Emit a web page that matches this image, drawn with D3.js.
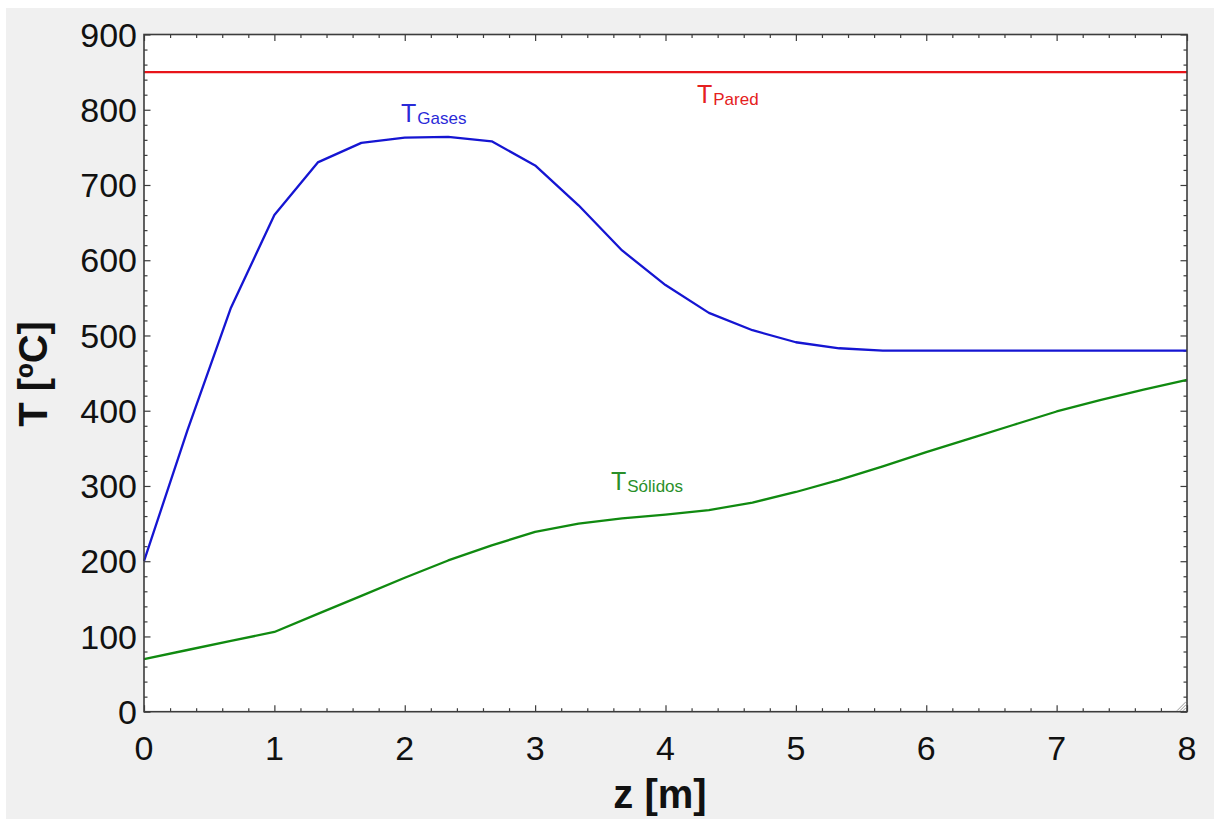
<!DOCTYPE html>
<html>
<head>
<meta charset="utf-8">
<script src="https://cdnjs.cloudflare.com/ajax/libs/d3/7.8.5/d3.min.js"></script>
<style>
  html, body { margin: 0; padding: 0; background: #ffffff; }
  svg { display: block; }
</style>
</head>
<body>
<script>
// Axial position along the reactor [m]
const zValues = [0, 0.333, 0.667, 1, 1.333, 1.667, 2, 2.333, 2.667, 3, 3.333, 3.667,
                 4, 4.333, 4.667, 5, 5.333, 5.667, 6, 6.333, 6.667, 7, 7.333, 7.667, 8];
// Gas temperature [ºC]
const tGases = [200, 374, 537, 660, 730, 756, 763, 764, 758, 726, 673, 613,
                567, 530, 507, 491, 483, 480, 480, 480, 480, 480, 480, 480, 480];
// Solids temperature [ºC]
const tSolidos = [70, 82, 94, 106, 130, 154, 178, 201, 221, 239, 250, 257,
                  262, 268, 278, 292, 308, 326, 345, 363, 381, 399, 414, 428, 441];
// Wall temperature [ºC]
const zPared = [0, 8];
const tPared = [850, 850];

const xTickLabels = [0, 1, 2, 3, 4, 5, 6, 7, 8];
const yTickLabels = [0, 100, 200, 300, 400, 500, 600, 700, 800, 900];

const W = 1214, H = 819;
const plotLeft = 144, plotRight = 1187, plotTop = 34.5, plotBottom = 711.7;

const svg = d3.select("body").append("svg")
  .attr("width", W).attr("height", H);

// window background
svg.append("rect").attr("x", 0).attr("y", 0).attr("width", W).attr("height", H).attr("fill", "#ffffff");
svg.append("rect").attr("x", 6).attr("y", 8).attr("width", W - 6).attr("height", H - 8).attr("fill", "#f0f0f0");

const x = d3.scaleLinear().domain([0, 8]).range([plotLeft, plotRight]);
const y = d3.scaleLinear().domain([0, 900]).range([plotBottom, plotTop]);

// plot area
svg.append("rect")
  .attr("x", plotLeft).attr("y", plotTop)
  .attr("width", plotRight - plotLeft).attr("height", plotBottom - plotTop)
  .attr("fill", "#ffffff");

const font = "'Liberation Sans', Arial, sans-serif";
const axisColor = "#3c3c3c";

// inward ticks on all four sides
const xMinor = d3.range(0, 8.0001, 0.2).map(v => +v.toFixed(1)).filter(v => Math.abs(v - Math.round(v)) > 1e-6);
const yMinor = d3.range(0, 900.1, 20).filter(v => v % 100 !== 0);

function tickAxis(axisFn, scale, values, size, transform) {
  const g = svg.append("g").attr("transform", transform)
    .call(axisFn(scale).tickValues(values).tickSize(size).tickFormat(""));
  g.select(".domain").remove();
  g.selectAll(".tick line").attr("stroke", axisColor).attr("stroke-width", 1.2);
  return g;
}
tickAxis(d3.axisBottom, x, xTickLabels, -6.5, `translate(0,${plotBottom})`);
tickAxis(d3.axisBottom, x, xMinor, -3.5, `translate(0,${plotBottom})`);
tickAxis(d3.axisTop, x, xTickLabels, -6.5, `translate(0,${plotTop})`);
tickAxis(d3.axisTop, x, xMinor, -3.5, `translate(0,${plotTop})`);
tickAxis(d3.axisLeft, y, yTickLabels, -6.5, `translate(${plotLeft},0)`);
tickAxis(d3.axisLeft, y, yMinor, -3.5, `translate(${plotLeft},0)`);
tickAxis(d3.axisRight, y, yTickLabels, -6.5, `translate(${plotRight},0)`);
tickAxis(d3.axisRight, y, yMinor, -3.5, `translate(${plotRight},0)`);

// tick labels
svg.append("g").selectAll("text").data(xTickLabels).join("text")
  .attr("x", d => x(d)).attr("y", 760)
  .attr("text-anchor", "middle")
  .attr("font-family", font).attr("font-size", 34).attr("fill", "#111")
  .text(d => d);

svg.append("g").selectAll("text").data(yTickLabels).join("text")
  .attr("x", 137).attr("y", d => y(d))
  .attr("dy", "0.36em")
  .attr("text-anchor", "end")
  .attr("font-family", font).attr("font-size", 34).attr("fill", "#111")
  .text(d => d);

// axis titles
svg.append("text")
  .attr("x", 660).attr("y", 808)
  .attr("text-anchor", "middle")
  .attr("font-family", font).attr("font-size", 40).attr("font-weight", "bold").attr("fill", "#111")
  .text("z [m]");

svg.append("text")
  .attr("transform", "translate(47,374) rotate(-90)")
  .attr("text-anchor", "middle")
  .attr("font-family", font).attr("font-size", 40).attr("font-weight", "bold").attr("fill", "#111")
  .text("T [ºC]");

// curves
const plot = svg.append("g");
const line = d3.line().x(d => x(d[0])).y(d => y(d[1]));

plot.append("path")
  .datum(d3.zip(zPared, tPared))
  .attr("d", line).attr("fill", "none")
  .attr("stroke", "#e8141a").attr("stroke-width", 2.2);

plot.append("path")
  .datum(d3.zip(zValues, tGases))
  .attr("d", line).attr("fill", "none")
  .attr("stroke", "#1515d2").attr("stroke-width", 2.3).attr("stroke-linejoin", "round");

plot.append("path")
  .datum(d3.zip(zValues, tSolidos))
  .attr("d", line).attr("fill", "none")
  .attr("stroke", "#108a10").attr("stroke-width", 2.3).attr("stroke-linejoin", "round");

// curve labels with subscripts
function curveLabel(xPos, yPos, sub, color) {
  const t = svg.append("text")
    .attr("x", xPos).attr("y", yPos)
    .attr("font-family", font).attr("fill", color);
  t.append("tspan").attr("font-size", 25).text("T");
  t.append("tspan").attr("font-size", 17).attr("dx", 1).attr("dy", 2).text(sub);
}
curveLabel(401, 122, "Gases", "#2a2ad8");
curveLabel(697, 103, "Pared", "#e52020");
curveLabel(611, 490, "Sólidos", "#2a8f2a");

// frame
svg.append("rect")
  .attr("x", plotLeft).attr("y", plotTop)
  .attr("width", plotRight - plotLeft).attr("height", plotBottom - plotTop)
  .attr("fill", "none").attr("stroke", axisColor).attr("stroke-width", 1.6);

// resize grip in the corner
const grip = svg.append("g").attr("stroke", "#9a9a9a").attr("stroke-width", 1);
[0, 3, 6].forEach(o => {
  grip.append("line")
    .attr("x1", plotRight - 10 + o).attr("y1", plotBottom - 1)
    .attr("x2", plotRight - 1).attr("y2", plotBottom - 10 + o);
});
</script>
</body>
</html>
